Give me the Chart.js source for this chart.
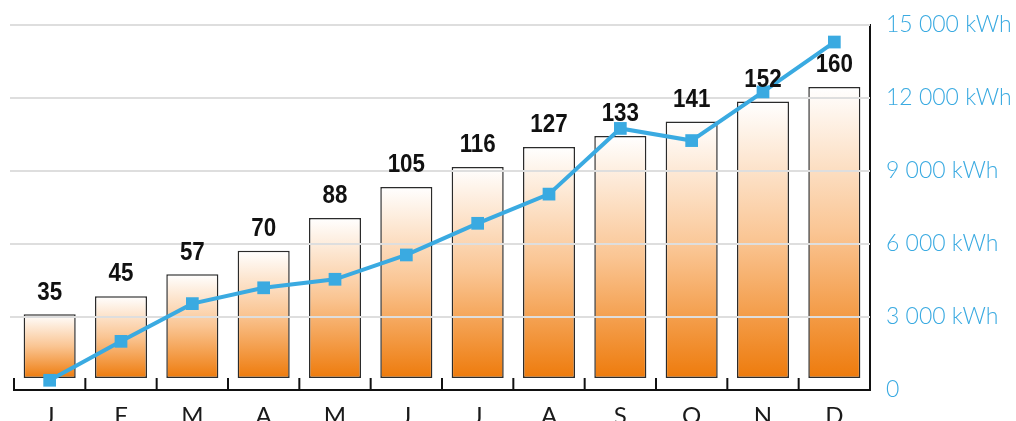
<!DOCTYPE html>
<html>
<head>
<meta charset="utf-8">
<script src="https://cdn.jsdelivr.net/npm/chart.js@4.4.1/dist/chart.umd.min.js"></script>
<style>
  html, body { margin: 0; padding: 0; background: #fff; overflow: hidden; }
  #wrap { width: 1016px; height: 421px; }
  canvas { display: block; }
</style>
</head>
<body>
<div id="wrap"><canvas id="chart" width="1016" height="421"></canvas></div>
<script>
// data
var months = ["J", "F", "M", "A", "M", "J", "J", "A", "S", "O", "N", "D"];
var bar_values = [35, 45, 57, 70, 88, 105, 116, 127, 133, 141, 152, 160];
var kwh_values = [400, 2000, 3550, 4200, 4550, 5550, 6850, 8050, 10750, 10250, 12250, 14300];
var kwh_ticks = [0, 3000, 6000, 9000, 12000, 15000];

var blue = "#3aaae1";
var grid_color = "#dedede";

function kwh_label(v) {
	if (v === 0) return "0";
	return String(v / 1000) + " 000 kWh";
}

// orange gradient, one per bar
function bar_fill(ctx) {
	var chart = ctx.chart;
	if (!chart.chartArea || ctx.dataIndex === undefined) return "#f5a65a";
	var ys = chart.scales.yBar;
	var top = ys.getPixelForValue(bar_values[ctx.dataIndex]);
	var bottom = ys.getPixelForValue(0);
	var g = chart.ctx.createLinearGradient(0, top, 0, bottom);
	g.addColorStop(0, "#ffffff");
	g.addColorStop(0.5, "#fac593");
	g.addColorStop(1, "#ee7b0c");
	return g;
}

// grid lines go over the bars but under the line
var gridPlugin = {
	id: "gridOverBars",
	afterDatasetDraw: function(chart, args) {
		if (args.index !== 0) return;
		var c = chart.ctx, ys = chart.scales.y, area = chart.chartArea;
		c.save();
		c.strokeStyle = grid_color;
		c.lineWidth = 2;
		kwh_ticks.forEach(function(v) {
			if (v === 0) return;
			var y = ys.getPixelForValue(v);
			c.beginPath();
			c.moveTo(area.left - 4, y);
			c.lineTo(area.right, y);
			c.stroke();
		});
		c.restore();
	}
};

// value labels above bars + upward tick marks on the x axis
var decoPlugin = {
	id: "deco",
	afterDatasetsDraw: function(chart) {
		var c = chart.ctx;
		var meta = chart.getDatasetMeta(0);
		c.save();
		c.fillStyle = "#111";
		c.font = "bold 26px 'Liberation Sans', Arial, sans-serif";
		c.textAlign = "center";
		c.textBaseline = "bottom";
		meta.data.forEach(function(bar, i) {
			c.save();
			c.translate(bar.x, bar.y - 9);
			c.scale(0.86, 1);
			c.fillText(String(bar_values[i]), 0, 0);
			c.restore();
		});
		c.restore();
	},
	afterDraw: function(chart) {
		var c = chart.ctx, xs = chart.scales.x, area = chart.chartArea;
		var step = (xs.right - xs.left) / months.length;
		c.save();
		c.strokeStyle = "#111";
		c.lineWidth = 2;
		for (var i = 0; i < months.length; i++) {
			var x = xs.left + i * step;
			c.beginPath();
			c.moveTo(x, area.bottom);
			c.lineTo(x, area.bottom - 12);
			c.stroke();
		}
		c.restore();
	}
};

var ctx = document.getElementById("chart");
var chart = new Chart(ctx, {
	data: {
		labels: months,
		datasets: [
			{
				type: "bar",
				data: bar_values,
				yAxisID: "yBar",
				backgroundColor: bar_fill,
				borderColor: "#2b2b2b",
				borderWidth: 1.5,
				borderSkipped: false,
				barPercentage: 0.73,
				categoryPercentage: 1,
				order: 2
			},
			{
				type: "line",
				data: kwh_values,
				yAxisID: "y",
				borderColor: blue,
				borderWidth: 4,
				backgroundColor: blue,
				pointStyle: "rect",
				pointRadius: 9,
				pointBorderWidth: 0,
				pointBackgroundColor: blue,
				tension: 0,
				order: 1
			}
		]
	},
	options: {
		responsive: false,
		animation: false,
		layout: { padding: { left: 14, top: 25, right: 0, bottom: 0 } },
		plugins: { legend: { display: false }, tooltip: { enabled: false } },
		scales: {
			x: {
				grid: { display: false, drawTicks: false },
				border: { display: true, color: "#111", width: 2 },
				ticks: {
					color: "#1a1a1a",
					padding: 12,
					font: { family: "Lato, 'Open Sans', sans-serif", size: 24, weight: 400 }
				},
				afterFit: function(s) { s.height = 421 - 390; }
			},
			yBar: {
				position: "left",
				display: false,
				min: -6.6,
				max: 194.1
			},
			y: {
				position: "right",
				min: 0,
				max: 15000,
				afterBuildTicks: function(s) {
					s.ticks = kwh_ticks.map(function(v) { return { value: v }; });
				},
				grid: {
					display: true,
					drawOnChartArea: false,
					drawTicks: true,
					tickLength: 16,
					color: "rgba(0,0,0,0)"
				},
				border: { display: true, color: "#111", width: 2 },
				ticks: {
					color: blue,
					padding: 0,
					crossAlign: "near",
					callback: function(v) { return kwh_label(v); },
					font: { family: "Lato, 'Open Sans', sans-serif", size: 23, weight: 300, lineHeight: 1.1 }
				},
				afterFit: function(s) { s.width = 1016 - 870; }
			}
		}
	},
	plugins: [gridPlugin, decoPlugin]
});
</script>
</body>
</html>
